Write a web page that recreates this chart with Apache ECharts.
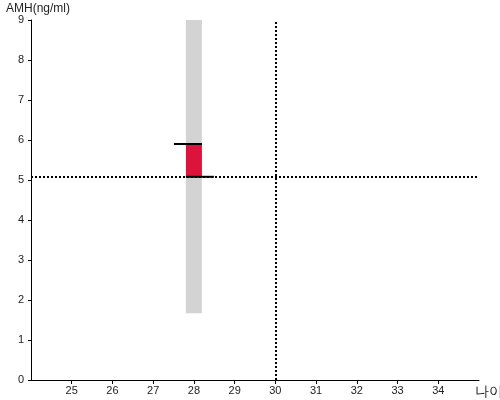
<!DOCTYPE html>
<html><head><meta charset="utf-8">
<script src="https://cdn.jsdelivr.net/npm/echarts@6/dist/echarts.min.js"></script>
<style>html,body{margin:0;padding:0;background:#fff}#c{width:500px;height:400px}</style>
</head><body><div id="c"></div>
<script>
// Data
const xTicks = [25, 26, 27, 28, 29, 30, 31, 32, 33, 34];
const yTicks = [0, 1, 2, 3, 4, 5, 6, 7, 8, 9];
const ages = [28];
const rangeLow = [1.67];
const rangeHigh = [9];
const amhLow = [5.08];
const amhHigh = [5.9];
const refAge = 30;
const refAMH = 5.08;

const chart = echarts.init(document.getElementById('c'), null, {renderer: 'canvas'});
const font = 'Liberation Sans, Arial, sans-serif';

const rangeData = ages.map((a, i) => [a, rangeLow[i], rangeHigh[i]]);
const amhData = ages.map((a, i) => [a, amhLow[i], amhHigh[i]]);

function barRender(color, whiskers) {
  return function (params, api) {
    const x = api.value(0);
    const lo = api.coord([x, api.value(1)]);
    const hi = api.coord([x, api.value(2)]);
    const w = 16;
    const children = [{
      type: 'rect',
      shape: {x: lo[0] - w / 2, y: hi[1], width: w, height: lo[1] - hi[1]},
      style: {fill: color}
    }];
    if (whiskers) {
      children.push({
        type: 'line',
        shape: {x1: hi[0] - w / 2 - 12, y1: hi[1], x2: hi[0] + w / 2, y2: hi[1]},
        style: {stroke: '#000', lineWidth: 2}
      });
      children.push({
        type: 'line',
        shape: {x1: lo[0] - w / 2, y1: lo[1], x2: lo[0] + w / 2 + 12, y2: lo[1]},
        style: {stroke: '#000', lineWidth: 2}
      });
    }
    return {type: 'group', children: children};
  };
}

chart.setOption({
  animation: false,
  grid: {left: 31, right: 21, top: 20, bottom: 20, containLabel: false, outerBoundsMode: 'none'},
  xAxis: {
    type: 'value', min: 24, max: 35, interval: 1,
    name: '나이', nameLocation: 'end', nameGap: 0,
    nameTextStyle: {fontFamily: font, fontSize: 14, color: '#222', align: 'left', verticalAlign: 'top', padding: [5, 0, 0, -4]},
    axisLine: {lineStyle: {color: '#000', width: 1}},
    axisTick: {show: true, length: 4, lineStyle: {color: '#000'}, customValues: xTicks},
    axisLabel: {fontFamily: font, fontSize: 11, color: '#222', margin: 5, customValues: xTicks},
    splitLine: {show: false}
  },
  yAxis: {
    type: 'value', min: 0, max: 9, interval: 1,
    name: 'AMH(ng/ml)', nameLocation: 'end', nameGap: 3,
    nameTextStyle: {fontFamily: font, fontSize: 12, color: '#222', align: 'left', padding: [0, 0, 0, -25]},
    axisLine: {show: true, lineStyle: {color: '#000', width: 1}},
    axisTick: {show: true, length: 3, lineStyle: {color: '#000'}},
    axisLabel: {fontFamily: font, fontSize: 11, color: '#222', margin: 7},
    splitLine: {show: false}
  },
  series: [
    {
      type: 'custom', name: 'range', renderItem: barRender('#d3d3d3', false),
      encode: {x: 0, y: [1, 2]}, data: rangeData, z: 1,
      markLine: {
        silent: true, symbol: 'none', label: {show: false},
        lineStyle: {color: '#000', width: 2, type: [2, 2]},
        data: [{xAxis: refAge}, {yAxis: refAMH}]
      }
    },
    {
      type: 'custom', name: 'amh', renderItem: barRender('#dc143c', true),
      encode: {x: 0, y: [1, 2]}, data: amhData, z: 3
    }
  ]
});
</script></body></html>
